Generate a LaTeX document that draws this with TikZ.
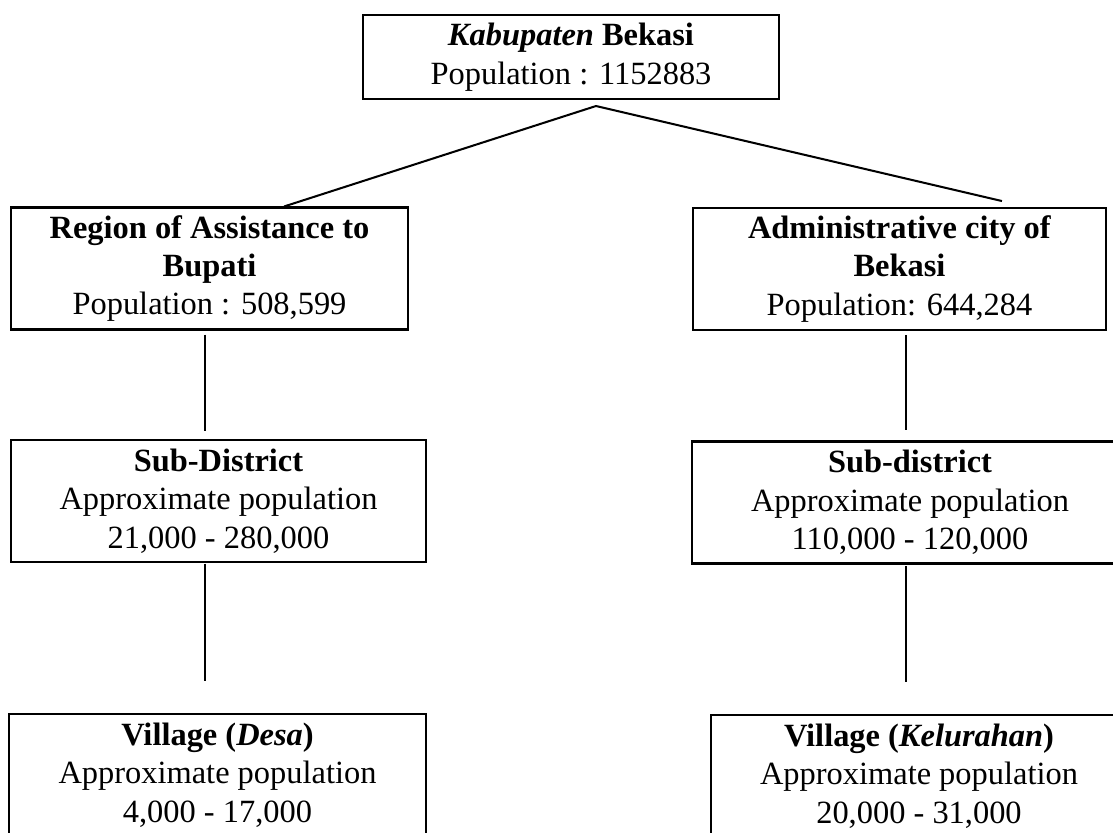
\documentclass[tikz,border=0pt]{standalone}
\usepackage{fontspec}
\setmainfont{Liberation Serif}
\usepackage{tikz}

\begin{document}
\begin{tikzpicture}[
x=0.37pt, y=-0.37pt,
box/.style={draw, line width=0.9pt, minimum height=45pt, inner sep=0pt, align=center, font=\fontsize{12}{14.2}\selectfont},
link/.style={line width=0.75pt}
]
\useasboundingbox (0,0) rectangle (1113,832);
\node[box, minimum width=154pt, minimum height=31pt] (top) at (571,57) {\textbf{\textit{Kabupaten} Bekasi}\\Population : 1152883};
\node[box, minimum width=147pt] (reg) at (209.5,268.5) {\textbf{Region of Assistance to}\\\textbf{Bupati}\\Population : 508,599};
\node[box, minimum width=153pt] (adm) at (899.5,269) {\textbf{Administrative city of}\\\textbf{Bekasi}\\Population: 644,284};
\node[box, minimum width=153.6pt] (subL) at (218.5,501) {\textbf{Sub-District}\\Approximate population\\21,000 - 280,000};
\node[box, minimum width=161.3pt] (subR) at (910,502.5) {\textbf{Sub-district}\\Approximate population\\110,000 - 120,000};
\node[box, minimum width=154.3pt] (vilL) at (217.5,775) {\textbf{Village (\textit{Desa})}\\Approximate population\\4,000 - 17,000};
\node[box, minimum width=153.9pt] (vilR) at (919,776) {\textbf{Village (\textit{Kelurahan})}\\Approximate population\\20,000 - 31,000};
% fork under the top box
\coordinate (fork) at (596,106);
\coordinate (lx) at (205,0);
\coordinate (rx) at (906,0);
\draw[link] (fork) -- ([xshift=27.6pt]reg.north);
\draw[link] (fork) -- ([xshift=37.9pt,yshift=2.2pt]adm.north);
\draw[link, shorten <=1.5pt, shorten >=3pt] (reg.south -| lx) -- (subL.north -| lx);
\draw[link, shorten <=0.2pt, shorten >=11.8pt] (subL.south -| lx) -- (vilL.north -| lx);
\draw[link, shorten <=1.5pt, shorten >=3.7pt] (adm.south -| rx) -- (subR.north -| rx);
\draw[link, shorten <=0.7pt, shorten >=11.8pt] (subR.south -| rx) -- (vilR.north -| rx);
\end{tikzpicture}
\end{document}
